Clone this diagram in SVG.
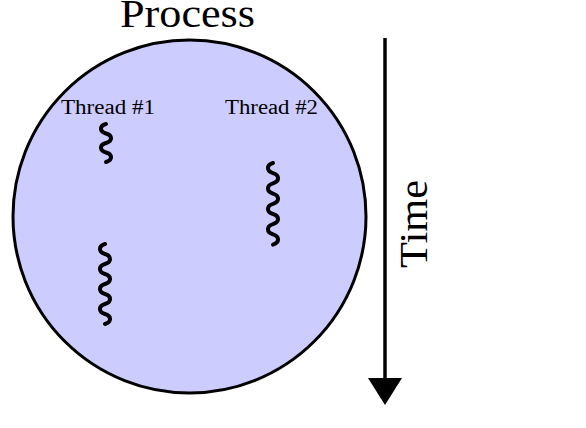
<svg xmlns="http://www.w3.org/2000/svg" width="586" height="428" viewBox="0 0 586 428">
  <defs>
    <style>
      .big { font-family: "Liberation Serif", "DejaVu Serif", serif; font-size: 40px; fill: #000; }
      .small { font-family: "Liberation Serif", "DejaVu Serif", serif; font-size: 20px; fill: #000; }
      .snake { fill: none; stroke: #000; stroke-width: 4; stroke-linecap: round; stroke-linejoin: round; }
    </style>
  </defs>
  <rect width="586" height="428" fill="#fff"/>

  <g id="process">
    <circle cx="189.5" cy="216.5" r="176.5" fill="#ccccff" stroke="#000" stroke-width="3"/>
    <text class="big" x="187.5" y="27" text-anchor="middle" textLength="135" lengthAdjust="spacingAndGlyphs">Process</text>
  </g>

  <g id="thread1">
    <text class="small" x="108" y="114" text-anchor="middle" textLength="94" lengthAdjust="spacingAndGlyphs">Thread #1</text>
    <path class="snake" d="M106,124 c-6.7,1.9 -6.7,7.6 0,9.5 s6.7,7.6 0,9.5 s-6.7,7.6 0,9.5 s6.7,7.6 0,9.5"/>
    <path class="snake" d="M105,244 c-6.7,2 -6.7,8 0,10 s6.7,8 0,10 s-6.7,8 0,10 s6.7,8 0,10 s-6.7,8 0,10 s6.7,8 0,10 s-6.7,8 0,10 s6.7,8 0,10"/>
  </g>

  <g id="thread2">
    <text class="small" x="271.5" y="114" text-anchor="middle" textLength="93" lengthAdjust="spacingAndGlyphs">Thread #2</text>
    <path class="snake" d="M273,163 c-6.7,2 -6.7,8.2 0,10.2 s6.7,8.2 0,10.2 s-6.7,8.2 0,10.2 s6.7,8.2 0,10.2 s-6.7,8.2 0,10.2 s6.7,8.2 0,10.2 s-6.7,8.2 0,10.2 s6.7,8.2 0,10.2"/>
  </g>

  <g id="connectors">
    <line x1="385" y1="38" x2="385" y2="378" stroke="#000" stroke-width="3.5"/>
    <path d="M368,378 L402,378 L385,405 Z" fill="#000"/>
  </g>

  <g id="time">
    <text class="big" transform="translate(427,224) rotate(-90)" x="0" y="0" text-anchor="middle" textLength="88" lengthAdjust="spacingAndGlyphs">Time</text>
  </g>
</svg>
